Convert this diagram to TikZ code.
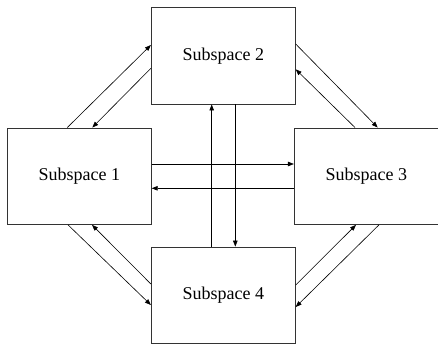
\documentclass[tikz,border=0pt]{standalone}
\usepackage{fontspec}
\setmainfont{Liberation Serif}
\usetikzlibrary{arrows.meta}
\begin{document}
\begin{tikzpicture}[x=1pt,y=-1pt,
  box/.style={draw=black!80,line width=0.8pt,minimum width=144pt,minimum height=96.5pt,inner sep=0pt,font=\fontsize{18}{20}\selectfont},
  arr/.style={line width=0.6pt,-{Triangle[length=6pt,width=4.5pt]}}]
\useasboundingbox (0,0) rectangle (438,344);
\node[box] (b1) at (79.3,176.2) {Subspace 1};
\node[box] (b2) at (223.3,55.8) {Subspace 2};
\node[box] (b3) at (366.3,176.2) {Subspace 3};
\node[box] (b4) at (223.3,295.3) {Subspace 4};
% 1 <-> 2
\draw[arr] ([xshift=-12pt]b1.north) -- ([yshift=10.8pt]b2.west);
\draw[arr] ([yshift=-12.5pt]b2.west) -- ([xshift=13pt]b1.north);
% 2 <-> 3
\draw[arr] ([yshift=11.8pt]b2.east) -- ([xshift=11.4pt]b3.north);
\draw[arr] ([xshift=-11.3pt]b3.north) -- ([yshift=-13.5pt]b2.east);
% 1 <-> 3
\draw[arr] ([yshift=12.2pt]b1.east) -- ([yshift=12.2pt]b3.west);
\draw[arr] ([yshift=-12.1pt]b3.west) -- ([yshift=-12.1pt]b1.east);
% 2 <-> 4
\draw[arr] ([xshift=-11.6pt]b4.north) -- ([xshift=-11.6pt]b2.south);
\draw[arr] ([xshift=12pt]b2.south) -- ([xshift=12pt]b4.north);
% 1 <-> 4
\draw[arr] ([xshift=-11.3pt]b1.south) -- ([yshift=-9.7pt]b4.west);
\draw[arr] ([yshift=11.3pt]b4.west) -- ([xshift=12.7pt]b1.south);
% 3 <-> 4
\draw[arr] ([yshift=10.3pt]b4.east) -- ([xshift=-10.3pt]b3.south);
\draw[arr] ([xshift=12.7pt]b3.south) -- ([yshift=-11.7pt]b4.east);
\end{tikzpicture}
\end{document}
